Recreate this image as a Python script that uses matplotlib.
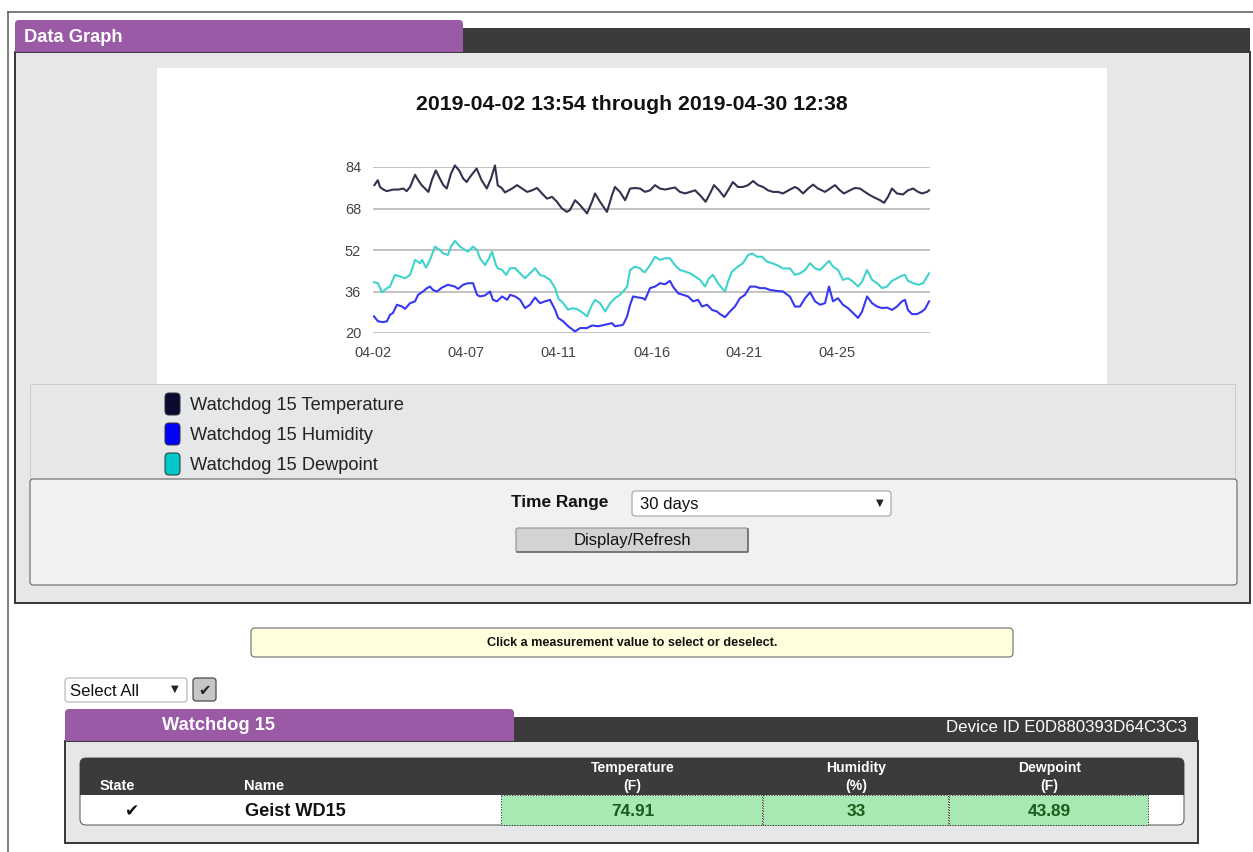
import matplotlib
matplotlib.use('Agg')
import matplotlib.pyplot as plt
from matplotlib.patches import Rectangle, FancyBboxPatch

# ---------------- data ----------------
title_text = "2019-04-02 13:54 through 2019-04-30 12:38"
span_days = 27.947  # 2019-04-02 13:54 -> 2019-04-30 12:38
x_tick_labels = ["04-02", "04-07", "04-11", "04-16", "04-21", "04-25"]
y_ticks = [20, 36, 52, 68, 84]

temp_days = [0.07, 0.24, 0.35, 0.52, 0.69, 0.85, 1.02, 1.27, 1.52, 1.69, 1.86, 2.11, 2.27, 2.44,
             2.61, 2.78, 2.95, 3.15, 3.31, 3.53, 3.70, 3.91, 4.11, 4.32, 4.53, 4.70, 4.87, 5.20,
             5.45, 5.71, 5.92, 6.12, 6.26, 6.46, 6.62, 6.98, 7.23, 7.48, 7.73, 7.98, 8.23, 8.48,
             8.73, 8.98, 9.23, 9.48, 9.73, 9.88, 10.14, 10.39, 10.74, 10.99, 11.14, 11.39, 11.74,
             11.99, 12.14, 12.39, 12.65, 12.90, 13.15, 13.40, 13.65, 13.90, 14.15, 14.40, 14.65,
             14.90, 15.15, 15.40, 15.66, 15.91, 16.16, 16.41, 16.69, 16.91, 17.11, 17.36, 17.61,
             17.81, 18.06, 18.31, 18.56, 18.82, 19.07, 19.32, 19.57, 19.82, 20.07, 20.32, 20.57,
             20.92, 21.17, 21.32, 21.58, 21.83, 22.08, 22.33, 22.68, 22.93, 23.18, 23.43, 23.63,
             23.93, 24.18, 24.43, 24.68, 24.94, 25.19, 25.44, 25.64, 25.84, 26.04, 26.29, 26.59,
             26.84, 27.10, 27.35, 27.55, 27.80, 27.90]
temp_vals = [77.0, 78.9, 76.3, 75.3, 74.7, 75.0, 75.3, 75.3, 75.7, 74.7, 76.3, 81.0, 78.9, 77.0,
             75.7, 74.4, 78.9, 82.7, 80.2, 77.0, 75.7, 81.4, 84.6, 82.7, 79.5, 78.2, 80.2, 83.4,
             78.9, 75.7, 79.5, 84.6, 76.9, 75.9, 74.2, 75.7, 77.0, 75.7, 74.4, 75.0, 75.9, 73.8,
             71.8, 72.5, 70.6, 68.0, 66.7, 67.4, 71.2, 69.3, 66.1, 70.6, 73.8, 70.6, 66.7,
             73.1, 76.3, 74.4, 71.2, 75.7, 75.9, 75.7, 74.4, 75.0, 77.0, 75.7, 75.3,
             75.7, 76.1, 74.4, 73.8, 74.4, 75.0, 73.1, 70.6, 73.8, 77.0, 75.0, 72.5,
             75.0, 78.2, 76.3, 76.3, 77.0, 78.6, 77.0, 76.3, 75.0, 74.4, 74.4, 73.8,
             75.3, 76.3, 75.7, 73.8, 75.7, 77.2, 75.7, 74.4, 75.7, 77.0, 75.0, 73.8,
             75.0, 75.9, 75.7, 74.4, 73.1, 72.1, 71.2, 70.2, 72.5, 75.7, 73.8, 73.4,
             75.0, 75.7, 74.4, 73.8, 74.4, 75.0]

hum_days = [0.05, 0.25, 0.50, 0.70, 0.85, 1.00, 1.20, 1.46, 1.61, 1.86, 2.11, 2.26, 2.51, 2.71,
            2.86, 3.01, 3.21, 3.46, 3.76, 4.11, 4.27, 4.52, 4.77, 5.02, 5.22, 5.37, 5.62, 5.87,
            6.02, 6.22, 6.48, 6.73, 6.88, 7.13, 7.38, 7.63, 7.88, 8.13, 8.38, 8.63, 8.88, 9.14,
            9.29, 9.54, 9.79, 10.14, 10.39, 10.74, 10.99, 11.30, 11.65, 11.99, 12.14, 12.39,
            12.55, 12.75, 12.90, 13.05, 13.30, 13.55, 13.65, 13.90, 14.15, 14.40, 14.65, 14.90,
            15.05, 15.31, 15.56, 15.81, 16.06, 16.31, 16.51, 16.76, 17.01, 17.26, 17.41, 17.66,
            17.91, 18.16, 18.41, 18.66, 18.92, 19.17, 19.42, 19.67, 19.92, 20.27, 20.57, 20.92,
            21.17, 21.42, 21.68, 21.93, 22.18, 22.43, 22.68, 22.88, 23.08, 23.33, 23.58, 23.83,
            24.09, 24.34, 24.54, 24.79, 25.04, 25.29, 25.54, 25.79, 26.04, 26.29, 26.54, 26.69,
            26.84, 27.04, 27.30, 27.55, 27.70, 27.90]
hum_vals = [26.4, 24.5, 24.2, 24.5, 27.0, 27.7, 30.9, 30.2, 29.3, 31.5, 32.2, 34.7, 36.0, 37.3,
            37.9, 36.6, 36.0, 37.5, 38.6, 37.9, 37.0, 38.6, 39.2, 39.2, 34.7, 34.1, 34.5, 36.0,
            32.8, 32.2, 34.1, 32.8, 34.7, 34.1, 32.8, 29.6, 30.9, 33.7, 31.5, 32.2, 32.8, 28.9,
            25.8, 24.5, 22.6, 20.6, 21.9, 21.9, 22.9, 22.6, 23.2, 23.8, 22.6, 22.9,
            23.2, 26.4, 30.9, 34.1, 33.7, 33.4, 32.8, 37.3, 37.9, 39.2, 38.8, 40.1,
            37.9, 35.3, 34.7, 34.1, 32.2, 32.8, 30.2, 30.9, 28.9, 28.3, 27.3, 26.1,
            28.3, 30.2, 33.4, 34.7, 37.9, 37.9, 37.3, 37.3, 36.6, 36.2, 36.0, 34.0,
            30.2, 30.2, 33.4, 35.7, 32.2, 30.9, 31.5, 37.9, 32.2, 33.4, 30.9, 29.6,
            27.7, 25.8, 28.3, 34.1, 31.5, 30.2, 29.6, 29.8, 28.9, 30.2, 32.2, 32.8,
            28.9, 27.3, 27.3, 28.3, 29.3, 32.2]

dew_days = [0.05, 0.25, 0.45, 0.70, 0.85, 1.10, 1.36, 1.61, 1.86, 2.11, 2.36, 2.46, 2.66, 2.86,
            3.11, 3.36, 3.51, 3.76, 3.91, 4.11, 4.37, 4.62, 4.77, 5.02, 5.22, 5.37, 5.62, 5.82,
            5.97, 6.17, 6.27, 6.48, 6.68, 6.88, 7.13, 7.38, 7.63, 7.88, 8.13, 8.38, 8.63, 8.88,
            9.14, 9.29, 9.54, 9.79, 10.04, 10.29, 10.54, 10.74, 10.99, 11.14, 11.39, 11.65,
            11.90, 12.14, 12.39, 12.55, 12.75, 12.90, 13.15, 13.40, 13.55, 13.65, 13.90, 14.15,
            14.40, 14.65, 14.90, 15.15, 15.40, 15.66, 15.91, 16.16, 16.41, 16.66, 16.86, 17.06,
            17.31, 17.51, 17.66, 17.81, 18.01, 18.31, 18.56, 18.82, 19.02, 19.27, 19.52, 19.77,
            20.02, 20.27, 20.57, 20.92, 21.17, 21.42, 21.68, 21.93, 22.18, 22.43, 22.68, 22.88,
            23.08, 23.33, 23.58, 23.83, 24.09, 24.34, 24.54, 24.79, 25.04, 25.29, 25.54, 25.79,
            26.04, 26.29, 26.54, 26.69, 26.84, 27.10, 27.35, 27.60, 27.90]
dew_vals = [39.6, 39.2, 35.7, 37.3, 37.9, 42.4, 41.8, 41.1, 42.4, 48.2, 46.9, 48.2, 45.2, 48.2,
            53.3, 52.0, 50.7, 50.1, 53.3, 55.5, 53.3, 52.0, 51.4, 53.3, 52.0, 48.8, 46.2, 48.8,
            51.4, 46.2, 44.9, 44.3, 42.4, 45.0, 45.0, 43.0, 41.1, 43.0, 45.0, 42.4, 41.8, 40.5,
            37.3, 33.4, 31.5, 29.0, 29.6, 29.0, 27.7, 26.4, 30.9, 32.8, 31.5, 28.3,
            31.5, 33.4, 34.7, 36.0, 37.9, 44.3, 45.6, 44.9, 43.7, 43.5, 46.2, 49.4,
            48.2, 48.8, 48.8, 46.2, 44.3, 43.7, 43.0, 41.8, 40.5, 37.9, 41.1, 42.4,
            39.2, 37.3, 36.0, 39.8, 43.7, 45.6, 46.9, 50.1, 50.7, 49.4, 49.4, 47.5,
            46.9, 46.2, 44.9, 44.9, 42.4, 43.0, 44.3, 46.9, 44.9, 44.3, 46.2, 47.8,
            45.6, 44.3, 40.5, 41.1, 39.8, 37.9, 39.8, 44.3, 40.5, 39.2, 37.3, 37.9,
            40.1, 41.1, 42.1, 42.4, 40.1, 39.2, 38.6, 39.2, 43.0]

series_names = ["Watchdog 15 Temperature", "Watchdog 15 Humidity", "Watchdog 15 Dewpoint"]
line_colors = ["#32324e", "#3838f0", "#40d2cd"]
swatch_colors = ["#0a0a30", "#0000ff", "#00c8c8"]

device_name = "Watchdog 15"
device_id = "Device ID E0D880393D64C3C3"
sensor_name = "Geist WD15"
col_headers = ["Temperature\n(F)", "Humidity\n(%)", "Dewpoint\n(F)"]
col_values = ["74.91", "33", "43.89"]
time_range = "30 days"

# ---------------- figure ----------------
W, H = 1253, 852
PT = 0.72  # px -> pt at dpi 100
FONT = "Liberation Sans"
SYM = "DejaVu Sans"

fig = plt.figure(figsize=(W / 100, H / 100), dpi=100)
fig.patch.set_facecolor("white")
bg = fig.add_axes([0, 0, 1, 1])
bg.set_xlim(0, W)
bg.set_ylim(H, 0)
bg.axis("off")

PURPLE = "#9b5aa5"
DARK = "#3b3a3c"
PANEL = "#e6e7e8"


def box(x0, y0, x1, y1, fc, ec="none", lw=0, r=0, z=1, ls="-"):
    if r:
        p = FancyBboxPatch((x0, y0), x1 - x0, y1 - y0,
                           boxstyle=f"round,pad=0,rounding_size={r}",
                           fc=fc, ec=ec, lw=lw * PT, zorder=z, linestyle=ls)
    else:
        p = Rectangle((x0, y0), x1 - x0, y1 - y0, fc=fc, ec=ec, lw=lw * PT,
                      zorder=z, linestyle=ls)
    bg.add_patch(p)


def txt(x, y, s, px, color="#111", weight="normal", ha="left", va="center",
        family=FONT, z=5, **kw):
    bg.text(x, y, s, fontsize=px * PT, color=color, fontweight=weight, ha=ha,
            va=va, family=family, zorder=z, **kw)


# outer frame
bg.plot([8, W], [12, 12], color="#555", lw=1.5 * PT, zorder=1)
bg.plot([8, 8], [12, H], color="#555", lw=1.5 * PT, zorder=1)

# ---- Data Graph panel ----
box(15, 52, 1250, 603, PANEL, ec="#3a3a3a", lw=2, z=1)
box(463, 28, 1250, 52, DARK, z=2)
box(15, 20, 463, 52, PURPLE, r=4, z=3)
box(15, 36, 463, 52, PURPLE, z=3)
txt(24, 37, "Data Graph", 18.4, color="white", weight="bold")

# chart white area
box(157, 68, 1107, 384, "white", z=2)
txt(632, 105, title_text, 21.3, color="#111", weight="bold", ha="center")

# legend area
box(30, 384, 1235, 479, PANEL, ec="#cccccc", lw=1, z=2)
for i, (name, c) in enumerate(zip(series_names, swatch_colors)):
    yc = 404 + 30 * i
    box(165, yc - 11, 180, yc + 11, c, ec="#333", lw=1, r=4, z=4)
    txt(190, yc + 1.5, name, 18.3, color="#222")

# controls area
box(30, 479, 1237, 585, "#f0f1f1", ec="#555", lw=1, r=3, z=2)
txt(511, 502, "Time Range", 17.3, color="#111", weight="bold")
box(632, 491, 891, 516, "white", ec="#999", lw=1, r=3, z=3)
txt(640, 505, time_range, 16.6, color="#111")
txt(880, 503, "\u25BC", 10, color="#222", ha="center", family=SYM)
box(516, 528, 748, 552, "#d3d3d3", ec="#888", lw=1, r=2, z=3)
bg.plot([517, 748, 748], [552, 552, 529], color="#666", lw=1.5 * PT, zorder=4)
txt(632, 541, "Display/Refresh", 16.6, color="#111", ha="center")

# ---- chart ----
ax = fig.add_axes([373 / W, 1 - 333 / H, 557 / W, 166 / H])
ax.set_facecolor("none")
for d, v, c in zip([temp_days, hum_days, dew_days], [temp_vals, hum_vals, dew_vals],
                   line_colors):
    ax.plot(d, v, color=c, lw=1.5, clip_on=False, solid_joinstyle="round", zorder=3)
ax.set_xlim(0, span_days)
ax.set_ylim(20, 84)
ax.set_yticks(y_ticks)
ax.set_xticks([i * span_days / 6 for i in range(len(x_tick_labels))])
ax.set_xticklabels(x_tick_labels)
ax.yaxis.grid(True, color="#bdbdbd", lw=1.3)
ax.xaxis.grid(False)
ax.set_axisbelow(True)
for s in ax.spines.values():
    s.set_visible(False)
ax.tick_params(axis="both", length=0, labelsize=14.5 * PT, labelcolor="#444")
ax.tick_params(axis="y", pad=12 * PT)
ax.tick_params(axis="x", pad=13 * PT)
for lab in ax.get_xticklabels() + ax.get_yticklabels():
    lab.set_family(FONT)

# ---- below panel ----
box(251, 628, 1013, 657, "#ffffdd", ec="#777", lw=1.2, r=4, z=2)
txt(632, 643.5, "Click a measurement value to select or deselect.", 12.6, color="#111",
    weight="bold", ha="center")

box(65, 678, 187, 702, "white", ec="#aaa", lw=1, r=3, z=2)
txt(70, 691, "Select All", 16.8, color="#111")
txt(175, 689, "\u25BC", 10, color="#222", ha="center", family=SYM)
box(193, 678, 216, 701, "#c6c6c6", ec="#444", lw=1.2, r=3, z=2)
txt(204.5, 690, "\u2714", 15, color="#222", ha="center", family=SYM)

# Watchdog panel
box(65, 741, 1198, 843, PANEL, ec="#3a3a3a", lw=2, z=1)
box(514, 717, 1198, 741, DARK, z=2)
box(65, 709, 514, 741, PURPLE, r=4, z=3)
box(65, 725, 514, 741, PURPLE, z=3)
txt(218, 725.5, device_name, 18.3, color="white", weight="bold", ha="center")
txt(1187, 728, device_id, 16.9, color="white", ha="right")

# inner table
box(80, 758, 1184, 825, "white", ec="#555", lw=1, r=6, z=2)
box(80, 758, 1184, 795, DARK, r=6, z=3)
box(80, 780, 1184, 795, DARK, z=3)
txt(117, 786, "State", 14.5, color="white", weight="bold", ha="center")
txt(244, 786, "Name", 14.8, color="white", weight="bold")
col_bounds = [(501, 762), (763, 948), (949, 1148)]
for (x0, x1), head, val in zip(col_bounds, col_headers, col_values):
    xc = (x0 + x1) / 2 + 1
    h1, h2 = head.split("\n")
    txt(xc, 768, h1, 14, color="white", weight="bold", ha="center")
    txt(xc, 786, h2, 14, color="white", weight="bold", ha="center")
    box(x0, 795, x1, 825, "#a8e8b2", ec="#222", lw=1, ls=":", z=4)
    txt(xc, 811.5, val, 17.2, color="#1b5a1b", weight="bold", ha="center")
txt(131, 811, "\u2714", 17, color="#111", ha="center", family=SYM)
txt(245, 811.5, sensor_name, 18.2, color="#111", weight="bold")

fig.savefig("out.png", dpi=100, facecolor="white")
